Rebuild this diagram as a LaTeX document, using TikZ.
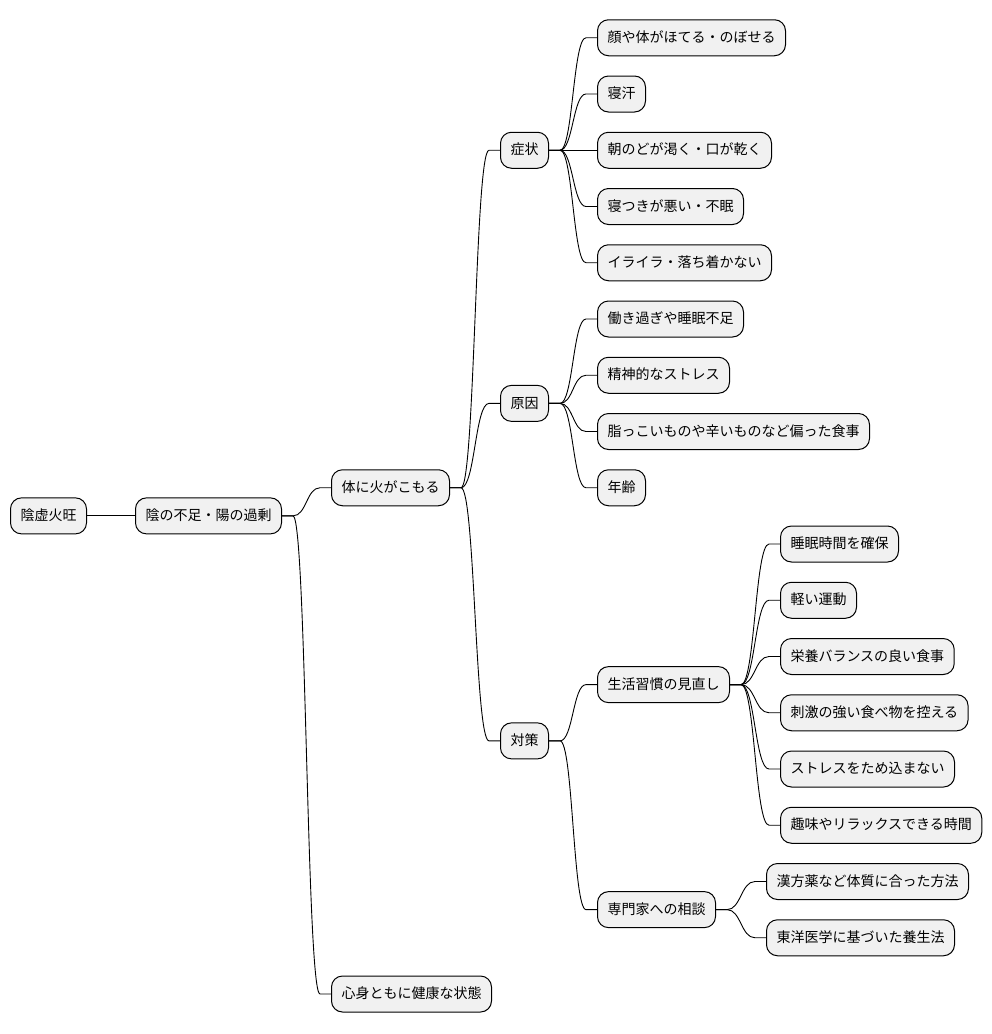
\documentclass[tikz,border=0pt]{standalone}
\usepackage{fontspec}
\setmainfont{Noto Sans CJK JP}
\usetikzlibrary{calc}
\definecolor{boxfill}{HTML}{F1F1F1}
\tikzset{
  mm/.style={draw=black, fill=boxfill, rounded corners=11pt, line width=1pt,
    minimum height=36pt, inner xsep=10pt, inner ysep=0pt, anchor=west,
    font=\fontsize{14pt}{16pt}\selectfont, text height=11pt, text depth=1.6pt},
  link/.style={line width=0.9pt, draw=black},
  branch/.style={to path={let \p1=(\tikztostart.east), \p2=(\tikztotarget.west) in
    (\x1,\y1) -- (\x1+11pt,\y1) .. controls ({(\x1+\x2)/2},\y1) and ({(\x1+\x2)/2},\y2) .. (\x2-11pt,\y2) -- (\x2,\y2)}}
}
\begin{document}
\begin{tikzpicture}[x=1pt,y=-1pt]
\path[fill=white] (0,0) rectangle (992,1034);
\useasboundingbox (0,0) rectangle (992,1034);
% level 0-2
\node[mm] (root) at (10,515.875) {陰虚火旺};
\node[mm] (yin) at (135,515.875) {陰の不足・陽の過剰};
\node[mm] (fire) at (331,487.75) {体に火がこもる};
\node[mm] (health) at (331,994) {心身ともに健康な状態};
% level 3
\node[mm] (sym) at (500,150.25) {症状};
\node[mm] (cause) at (500,403.375) {原因};
\node[mm] (meas) at (500,740.875) {対策};
% symptoms
\node[mm] (s1) at (597,37.75) {顔や体がほてる・のぼせる};
\node[mm] (s2) at (597,94) {寝汗};
\node[mm] (s3) at (597,150.25) {朝のどが渇く・口が乾く};
\node[mm] (s4) at (597,206.5) {寝つきが悪い・不眠};
\node[mm] (s5) at (597,262.75) {イライラ・落ち着かない};
% causes
\node[mm] (c1) at (597,319) {働き過ぎや睡眠不足};
\node[mm] (c2) at (597,375.25) {精神的なストレス};
\node[mm] (c3) at (597,431.5) {脂っこいものや辛いものなど偏った食事};
\node[mm] (c4) at (597,487.75) {年齢};
% measures
\node[mm] (life) at (597,684.625) {生活習慣の見直し};
\node[mm] (expert) at (597,909.625) {専門家への相談};
\node[mm] (l1) at (780,544) {睡眠時間を確保};
\node[mm] (l2) at (780,600.25) {軽い運動};
\node[mm] (l3) at (780,656.5) {栄養バランスの良い食事};
\node[mm] (l4) at (780,712.75) {刺激の強い食べ物を控える};
\node[mm] (l5) at (780,769) {ストレスをため込まない};
\node[mm] (l6) at (780,825.25) {趣味やリラックスできる時間};
\node[mm] (e1) at (766,881.5) {漢方薬など体質に合った方法};
\node[mm] (e2) at (766,937.75) {東洋医学に基づいた養生法};
% connectors
\draw[link] (root.east) -- (yin.west);
\draw[link] (yin) to[branch] (fire);
\draw[link] (yin) to[branch] (health);
\draw[link] (fire) to[branch] (sym);
\draw[link] (fire) to[branch] (cause);
\draw[link] (fire) to[branch] (meas);
\foreach \c in {s1,s2,s3,s4,s5} \draw[link] (sym) to[branch] (\c);
\foreach \c in {c1,c2,c3,c4} \draw[link] (cause) to[branch] (\c);
\draw[link] (meas) to[branch] (life);
\draw[link] (meas) to[branch] (expert);
\foreach \c in {l1,l2,l3,l4,l5,l6} \draw[link] (life) to[branch] (\c);
\foreach \c in {e1,e2} \draw[link] (expert) to[branch] (\c);
\end{tikzpicture}
\end{document}
